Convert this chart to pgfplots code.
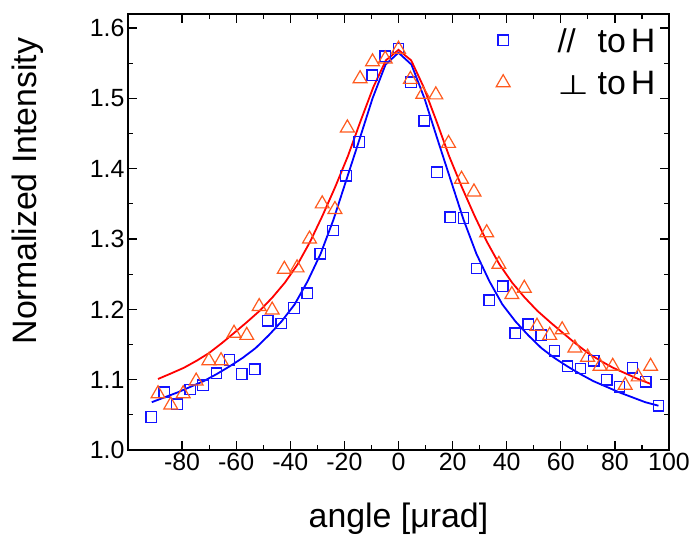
\documentclass[border=0pt]{standalone}
\usepackage{fontspec}
\setmainfont{Liberation Sans}
\newfontfamily\dejavu{DejaVu Sans}
\usepackage{graphicx}
\usepackage{pgfplots}
\usepackage{pgfplotstable}
\pgfplotsset{compat=1.18}
\definecolor{myblue}{RGB}{20,20,255}
\definecolor{myorange}{RGB}{255,90,30}
\definecolor{myred}{RGB}{255,0,0}
\definecolor{mycurveblue}{RGB}{0,0,255}

\pgfplotstableread{
x y
-91.4 1.047
-86.6 1.082
-81.9 1.065
-77.0 1.086
-72.3 1.092
-67.3 1.109
-62.5 1.128
-57.9 1.108
-53.1 1.115
-48.3 1.184
-43.4 1.180
-38.6 1.202
-33.7 1.223
-28.9 1.279
-24.2 1.312
-19.4 1.390
-14.5 1.438
-9.7 1.533
-4.9 1.560
0.0 1.571
4.6 1.523
9.5 1.468
14.2 1.395
19.1 1.331
24.0 1.330
28.8 1.258
33.6 1.213
38.5 1.233
43.2 1.166
48.0 1.179
52.8 1.163
57.7 1.141
62.5 1.119
67.3 1.116
72.2 1.127
77.0 1.100
81.7 1.090
86.5 1.117
91.4 1.097
96.1 1.063
}\parallel

\pgfplotstableread{
x y
-88.9 1.080
-84.2 1.064
-79.6 1.080
-74.8 1.098
-70.1 1.127
-65.6 1.127
-60.8 1.166
-56.1 1.163
-51.5 1.204
-46.7 1.199
-42.2 1.257
-37.5 1.259
-32.9 1.300
-28.2 1.350
-23.5 1.342
-18.9 1.458
-14.2 1.528
-9.6 1.552
-4.9 1.556
0.0 1.570
4.4 1.527
9.0 1.506
13.8 1.505
18.5 1.436
23.3 1.385
27.9 1.367
32.6 1.309
37.1 1.264
41.9 1.221
46.5 1.230
51.2 1.176
55.9 1.163
60.5 1.171
65.2 1.145
69.9 1.132
74.5 1.119
79.2 1.119
83.8 1.092
88.6 1.104
93.2 1.119
}\perpdata

\pgfplotstableread{
x y
-91.2 1.068
-86.4 1.075
-81.6 1.082
-76.8 1.090
-72.0 1.098
-67.2 1.108
-62.4 1.119
-57.6 1.131
-52.8 1.145
-48.0 1.163
-43.2 1.183
-38.4 1.207
-33.6 1.240
-28.8 1.279
-24.0 1.328
-19.2 1.385
-14.4 1.442
-9.6 1.500
-4.8 1.548
0.0 1.565
4.8 1.548
9.6 1.500
14.4 1.442
19.2 1.385
24.0 1.328
28.8 1.279
33.6 1.240
38.4 1.207
43.2 1.183
48.0 1.163
52.8 1.145
57.6 1.131
62.4 1.119
67.2 1.108
72.0 1.098
76.8 1.090
81.6 1.082
86.4 1.075
91.2 1.068
96.1 1.063
}\fitpar

\pgfplotstableread{
x y
-88.9 1.101
-84.0 1.109
-79.3 1.117
-74.6 1.127
-70.0 1.138
-65.3 1.152
-60.6 1.167
-56.0 1.182
-51.3 1.198
-46.6 1.217
-42.0 1.238
-37.3 1.264
-32.7 1.296
-28.0 1.334
-23.4 1.374
-18.7 1.418
-14.0 1.468
-9.3 1.516
-4.7 1.554
0.0 1.569
4.7 1.554
9.3 1.516
14.0 1.468
18.7 1.418
23.4 1.374
28.0 1.334
32.7 1.296
37.3 1.264
42.0 1.238
46.6 1.217
51.3 1.198
56.0 1.182
60.6 1.167
65.3 1.152
70.0 1.138
74.6 1.127
79.3 1.117
83.9 1.109
88.6 1.101
93.2 1.094
}\fitperp

\begin{document}
\begin{tikzpicture}
\begin{axis}[
  name=ax,
  width=541bp, height=436bp, scale only axis,
  xmin=-100, xmax=100, ymin=1.0, ymax=1.62,
  xtick={-80,-60,-40,-20,0,20,40,60,80,100},
  xticklabels={-80,-60,-40,-20,0,20,40,60,80,100},
  ytick={1.0,1.1,1.2,1.3,1.4,1.5,1.6},
  yticklabels={1.0,1.1,1.2,1.3,1.4,1.5,1.6},
  minor x tick num=1, minor y tick num=1,
  tick align=inside,
  major tick length=9bp, minor tick length=5bp,
  every tick/.style={black, line width=1.2bp},
  axis line style={black, line width=1.6bp},
  ticklabel style={font=\fontsize{25}{25}\selectfont},
  xlabel={angle [μrad]},
  ylabel={Normalized Intensity},
  xlabel style={font=\fontsize{34}{34}\selectfont, at={(axis description cs:0.5,-0.177)}, anchor=base},
  ylabel style={font=\fontsize{34}{34}\selectfont, at={(axis description cs:-0.185,0.594)}, anchor=center},
  legend style={draw=none, fill=none, inner sep=0pt,
    nodes={inner sep=0pt, text depth=0pt},
    row sep=19bp,
    at={(axis description cs:0.6803,0.9679)}, anchor=north west,
    font=\fontsize{34}{34}\selectfont},
  legend cell align=left,
]
\addplot[only marks, mark=square, mark size=5.25bp, color=myblue, mark options={line width=1.3bp}] table {\parallel};
\addlegendentry{\hspace*{47.5bp}\makebox[40bp][l]{\fontsize{33}{33}\selectfont //}to\hspace{0.15em}H}
\addplot[only marks, mark=triangle, mark size=8bp, color=myorange, mark options={line width=1.2bp}] table {\perpdata};
\addlegendentry{\hspace*{47.5bp}\makebox[40bp][l]{\scalebox{1.33}[1]{\dejavu\fontsize{27}{27}\selectfont ⊥}}to\hspace{0.15em}H}
\addplot[forget plot, no marks, color=mycurveblue, line width=1.8bp] table {\fitpar};
\addplot[forget plot, no marks, color=myred, line width=1.8bp] table {\fitperp};
\end{axis}
\pgfresetboundingbox
\path ([xshift=-128bp,yshift=14bp]ax.north west) rectangle ([xshift=23bp,yshift=-85bp]ax.south east);
\end{tikzpicture}
\end{document}
